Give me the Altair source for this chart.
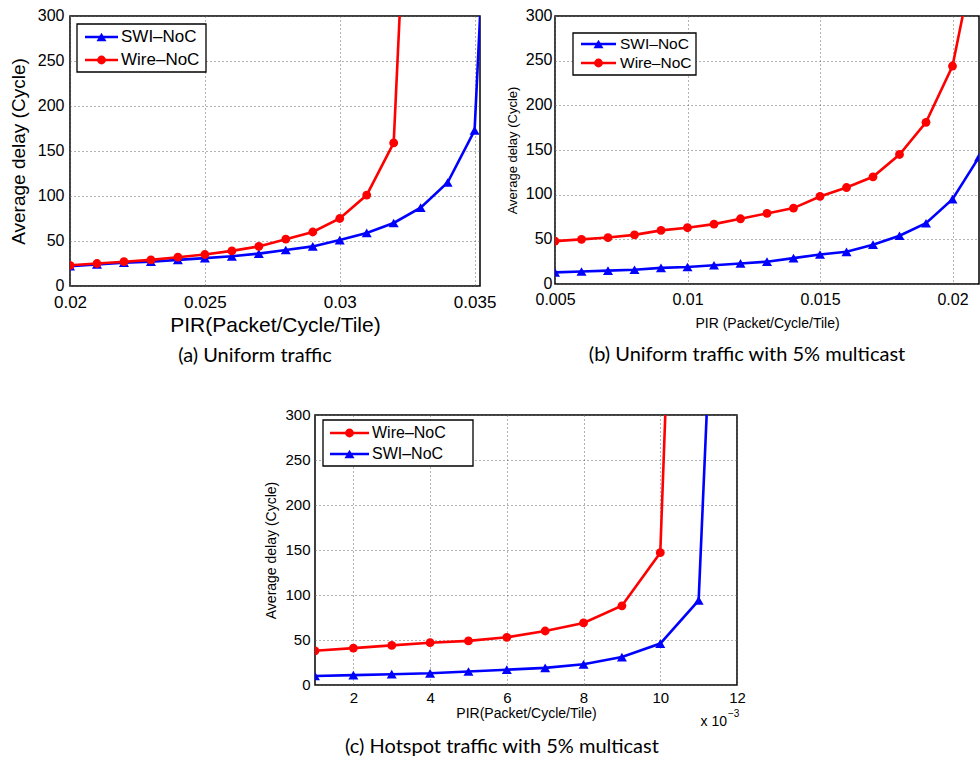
import altair as alt
import pandas as pd

BLUE = "#0000FF"
RED = "#FF0000"
SWI = "SWI–NoC"
WIRE = "Wire–NoC"

# ---------------- (a) Uniform traffic ----------------
pir_a_swi = [0.020, 0.021, 0.022, 0.023, 0.024, 0.025, 0.026, 0.027, 0.028,
             0.029, 0.030, 0.031, 0.032, 0.033, 0.034, 0.035, 0.036]
delay_a_swi = [22, 24, 26, 27, 29, 31, 33, 36, 40, 44, 51, 59, 70, 87, 115, 173, 800]
pir_a_wire = [0.020, 0.021, 0.022, 0.023, 0.024, 0.025, 0.026, 0.027, 0.028,
              0.029, 0.030, 0.031, 0.032, 0.033]
delay_a_wire = [23, 25, 27, 29, 32, 35, 39, 44, 52, 60, 75, 101, 159, 800]

# ---------------- (b) Uniform traffic with 5% multicast ----------------
pir_b_swi = [0.005, 0.006, 0.007, 0.008, 0.009, 0.010, 0.011, 0.012, 0.013,
             0.014, 0.015, 0.016, 0.017, 0.018, 0.019, 0.020, 0.021]
delay_b_swi = [13, 14, 15, 16, 18, 19, 21, 23, 25, 29, 33, 36, 44, 54, 68, 95, 142]
pir_b_wire = [0.005, 0.006, 0.007, 0.008, 0.009, 0.010, 0.011, 0.012, 0.013,
              0.014, 0.015, 0.016, 0.017, 0.018, 0.019, 0.020, 0.021]
delay_b_wire = [48, 50, 52, 55, 60, 63, 67, 73, 79, 85, 98, 108, 120, 145, 181, 244, 390]

# ---------------- (c) Hotspot traffic with 5% multicast (PIR in units of 1e-3) ----------------
pir_c_wire = [1, 2, 3, 4, 5, 6, 7, 8, 9, 10, 11]
delay_c_wire = [38, 41, 44, 47, 49, 53, 60, 69, 88, 147, 1320]
pir_c_swi = [1, 2, 3, 4, 5, 6, 7, 8, 9, 10, 11, 12]
delay_c_swi = [10, 11, 12, 13, 15, 17, 19, 23, 31, 46, 94, 1080]

y_ticks = [0, 50, 100, 150, 200, 250, 300]
x_ticks_a = [0.02, 0.025, 0.03, 0.035]
x_ticks_b = [0.005, 0.01, 0.015, 0.02]
x_ticks_c = [2, 4, 6, 8, 10, 12]

SANS = "Liberation Sans, Arial, Helvetica, sans-serif"
CAP = "Lato, Open Sans, sans-serif"

COLOR_OF = {SWI: BLUE, WIRE: RED}
SHAPE_OF = {SWI: "triangle-up", WIRE: "circle"}
SIZE_OF = {SWI: 100, WIRE: 78}


def make_df(pa, da, pb, db):
    return pd.concat([
        pd.DataFrame({"pir": pa, "delay": da, "series": SWI}),
        pd.DataFrame({"pir": pb, "delay": db, "series": WIRE}),
    ], ignore_index=True)


def legend_layers(order, box, rows_y, line_x, label_x, font_size):
    """In-plot legend box (MATLAB style): line + marker + label per series."""
    layers = [
        alt.Chart(pd.DataFrame({"k": [0]})).mark_rect(
            fill="white", stroke="black", strokeWidth=1.3).encode(
            x=alt.value(box[0]), x2=alt.value(box[1]),
            y=alt.value(box[2]), y2=alt.value(box[3]))
    ]
    mid = (line_x[0] + line_x[1]) / 2
    for s, ry in zip(order, rows_y):
        d = pd.DataFrame({"label": [s]})
        layers.append(alt.Chart(d).mark_rule(color=COLOR_OF[s], strokeWidth=2.6).encode(
            x=alt.value(line_x[0]), x2=alt.value(line_x[1]), y=alt.value(ry)))
        layers.append(alt.Chart(d).mark_point(
            shape=SHAPE_OF[s], filled=True, size=SIZE_OF[s], color=COLOR_OF[s], opacity=1).encode(
            x=alt.value(mid), y=alt.value(ry)))
        layers.append(alt.Chart(d).mark_text(
            align="left", baseline="middle", font=SANS, fontSize=font_size, color="black").encode(
            x=alt.value(label_x), y=alt.value(ry), text="label:N"))
    return layers


def panel(df, order, xdom, xvals, xfmt, w, h, xax, yax, leg, caption, extra=None):
    colors = [COLOR_OF[s] for s in order]
    X = alt.X("pir:Q", scale=alt.Scale(domain=xdom, nice=False, zero=False),
              axis=alt.Axis(values=xvals, format=xfmt, grid=True, gridDash=[1, 3],
                            gridColor="#666", gridWidth=1, domain=False, ticks=False,
                            labelColor="black", titleColor="black",
                            titleFontWeight="normal", labelFlush=False, **xax))
    Y = alt.Y("delay:Q", scale=alt.Scale(domain=[0, 300], nice=False),
              axis=alt.Axis(values=y_ticks, grid=True, gridDash=[1, 3],
                            gridColor="#666", gridWidth=1, domain=False, ticks=False,
                            labelColor="black", titleColor="black", labelOffset=-1,
                            titleFontWeight="normal", labelFlush=False, **yax))
    C = alt.Color("series:N", scale=alt.Scale(domain=order, range=colors), legend=None)
    base = alt.Chart(df)
    line = base.mark_line(strokeWidth=2.6, clip=True).encode(x=X, y=Y, color=C, detail="series:N")
    tri = base.transform_filter(alt.datum.series == SWI).mark_point(
        shape="triangle-up", filled=True, size=SIZE_OF[SWI], opacity=1, clip=True).encode(
        x=X, y=Y, color=C)
    circ = base.transform_filter(alt.datum.series == WIRE).mark_point(
        shape="circle", filled=True, size=SIZE_OF[WIRE], opacity=1, clip=True).encode(
        x=X, y=Y, color=C)
    layers = [line, tri, circ] + legend_layers(order, **leg)
    if extra is not None:
        layers += extra
    return alt.layer(*layers).properties(
        width=w, height=h,
        view=alt.ViewBackground(stroke="black", strokeWidth=1.5),
        title=caption,
    )


df_a = make_df(pir_a_swi, delay_a_swi, pir_a_wire, delay_a_wire)
df_b = make_df(pir_b_swi, delay_b_swi, pir_b_wire, delay_b_wire)
df_c = make_df(pir_c_swi, delay_c_swi, pir_c_wire, delay_c_wire)

chart_a = panel(
    df_a, [SWI, WIRE], [0.02, 0.0352], x_ticks_a, ".3~f", 410, 270,
    xax=dict(labelFont=SANS, labelFontSize=17, labelPadding=8,
             title="PIR(Packet/Cycle/Tile)", titleFont=SANS, titleFontSize=21, titlePadding=4),
    yax=dict(labelFont=SANS, labelFontSize=16, labelPadding=6,
             title="Average delay (Cycle)", titleFont=SANS, titleFontSize=19, titlePadding=9),
    leg=dict(box=(7, 136, 8, 56), rows_y=(21, 44), line_x=(15, 48), label_x=51, font_size=17),
    caption=alt.TitleParams(text="(a) Uniform traffic", orient="bottom", anchor="middle",
                            font=CAP, fontSize=20, fontWeight="normal", color="black",
                            offset=11, dx=-20),
)

chart_b = panel(
    df_b, [SWI, WIRE], [0.005, 0.021], x_ticks_b, ".3~f", 424, 268,
    xax=dict(labelFont=SANS, labelFontSize=16, labelPadding=7,
             title="PIR (Packet/Cycle/Tile)", titleFont=SANS, titleFontSize=14, titlePadding=9),
    yax=dict(labelFont=SANS, labelFontSize=16, labelPadding=3,
             title="Average delay (Cycle)", titleFont=SANS, titleFontSize=13, titlePadding=6),
    leg=dict(box=(18, 141, 17, 59), rows_y=(28, 47), line_x=(26, 61), label_x=65, font_size=15.5),
    caption=alt.TitleParams(text="(b) Uniform traffic with 5% multicast", orient="bottom",
                            anchor="middle", font=CAP, fontSize=20, fontWeight="normal",
                            color="black", offset=15, dx=-20),
)

exp_base = pd.DataFrame({"t": ["x 10"]})
exp_sup = pd.DataFrame({"t": ["−3"]})
c_w, c_h = 422, 270
exp_layers = [
    alt.Chart(exp_base).mark_text(align="right", baseline="middle", font=SANS, fontSize=14,
                                  color="black").encode(
        text="t:N", x=alt.value(c_w - 10), y=alt.value(c_h + 37)),
    alt.Chart(exp_sup).mark_text(align="left", baseline="middle", font=SANS, fontSize=10,
                                 color="black").encode(
        text="t:N", x=alt.value(c_w - 9), y=alt.value(c_h + 29)),
]

chart_c = panel(
    df_c, [WIRE, SWI], [1, 12], x_ticks_c, "d", c_w, c_h,
    xax=dict(labelFont=SANS, labelFontSize=15, labelPadding=5,
             title="PIR(Packet/Cycle/Tile)", titleFont=SANS, titleFontSize=14, titlePadding=1),
    yax=dict(labelFont=SANS, labelFontSize=15, labelPadding=5,
             title="Average delay (Cycle)", titleFont=SANS, titleFontSize=14, titlePadding=6),
    leg=dict(box=(8, 158, 5, 51), rows_y=(18, 39), line_x=(15, 54), label_x=57, font_size=16),
    caption=alt.TitleParams(text="(c) Hotspot traffic with 5% multicast", orient="bottom",
                            anchor="middle", font=CAP, fontSize=20, fontWeight="normal",
                            color="black", offset=8, dx=-24),
    extra=exp_layers,
)

spacer = alt.Chart(pd.DataFrame({"v": [0]})).mark_point(opacity=0).encode(
    x=alt.value(0), y=alt.value(0)).properties(width=193, height=10)

top = alt.hconcat(chart_a, chart_b, spacing=8)
bottom = alt.hconcat(spacer, chart_c, spacing=0)

chart = alt.vconcat(top, bottom, spacing=39).properties(
    padding={"left": 8, "top": 6, "right": 0, "bottom": 0},
    background="white",
).configure_view(stroke="transparent")

chart.save("out.html", embed_options={"renderer": "svg", "actions": False})
